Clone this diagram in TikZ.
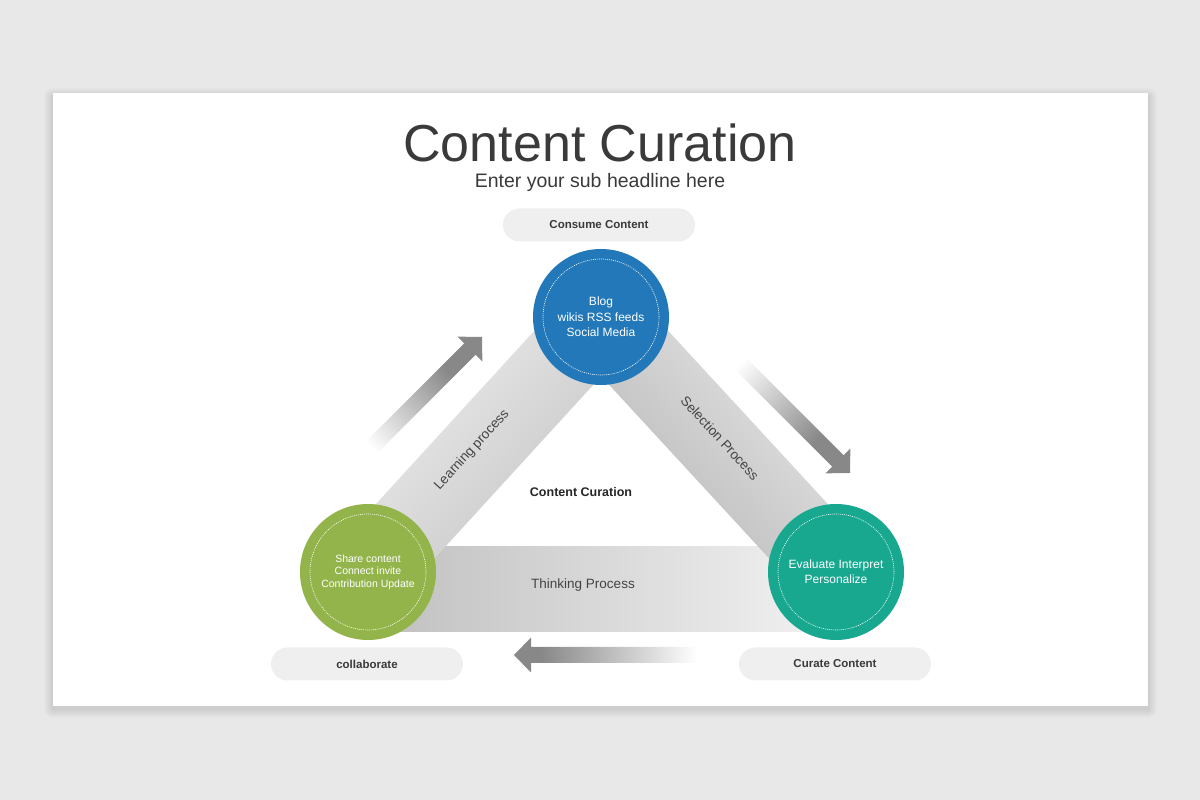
\documentclass[tikz,border=0pt]{standalone}
\usepackage{fontspec}
\setmainfont{Liberation Sans}
\usetikzlibrary{calc}
\definecolor{bgc}{HTML}{E9E8E9}
\definecolor{pillc}{HTML}{EFEFEF}
\definecolor{bluec}{HTML}{2278B9}
\definecolor{greenc}{HTML}{93B44B}
\definecolor{tealc}{HTML}{18A88F}
\definecolor{agray}{HTML}{888888}
\definecolor{titlec}{HTML}{3A3A3A}
\definecolor{labc}{HTML}{444444}
\pgfdeclarehorizontalshading{fadearrow}{100bp}{color(0bp)=(white); color(28bp)=(white); color(68bp)=(agray); color(100bp)=(agray)}
\tikzset{
  hub/.style={circle,minimum size=136pt,inner sep=0pt,text=white,align=center},
  ring/.style={circle,draw=white,line width=0.6pt,dash pattern=on 1pt off 1pt,minimum size=116pt,inner sep=0pt},
  pill/.style={rounded corners=16.5pt,fill=pillc,minimum width=192pt,minimum height=33pt,inner sep=0pt,font=\fontsize{11.5}{13}\selectfont\bfseries,text=titlec},
  bandlab/.style={font=\fontsize{13.5}{15}\selectfont,text=labc},
  fadearr/.style={shading=fadearrow}
}
\newcommand{\blockarrowpath}[1]{(0,0) -- (-17,17.5) -- (-17,8) -- (-#1,8) -- (-#1,-8) -- (-17,-8) -- (-17,-17.5) -- cycle}
\begin{document}
\begin{tikzpicture}[x=1pt,y=1pt]
\useasboundingbox (0,0) rectangle (1200,800);
\fill[bgc] (0,0) rectangle (1200,800);
% card shadow
\foreach \d in {1,2,...,9}{
  \fill[black,opacity=0.012,rounded corners=\d pt] (53-\d,94-\d-3) rectangle (1148+\d,707+\d-4);
}
\fill[white] (53,94) rectangle (1148,707);
% titles
\node[anchor=base,font=\fontsize{52}{60}\selectfont,text=titlec] (title) at (600,638) {Content Curation};
\node[anchor=base,font=\fontsize{19.5}{22}\selectfont,text=titlec] (sub) at (600,612) {Enter your sub headline here};
% centers
\coordinate (cB) at (601,483);
\coordinate (cG) at (368,228);
\coordinate (cT) at (836,228);
% bands
\shade[left color=white!75!black, right color=white!95!black] (368,168) rectangle (836,253);
\begin{scope}[shift={(cG)},rotate=47.57]
  \shade[left color=white!94!black, right color=white!76!black, shading angle=47.57] (0,-40) rectangle (345.4,40);
\end{scope}
\begin{scope}[shift={(cB)},rotate=-47.33]
  \shade[left color=white!92!black, right color=white!70!black, shading angle=-47.33] (0,-40) rectangle (346.8,40);
\end{scope}
% gradient arrows
\begin{scope}[shift={(482,463)},rotate=45]
  \shade[fadearr,shading angle=45] \blockarrowpath{186};
\end{scope}
\begin{scope}[shift={(850,327)},rotate=-45]
  \shade[fadearr,shading angle=-45] \blockarrowpath{184};
\end{scope}
\begin{scope}[shift={(514,145)},rotate=180]
  \shade[fadearr,shading angle=180] \blockarrowpath{195};
\end{scope}
% band labels
\node[bandlab,rotate=47.57] (learn) at (472,350) {Learning process};
\node[bandlab,rotate=-47.33] (select) at (720,362) {Selection Process};
\node[bandlab] (think) at (583,215) {Thinking Process};
\node[font=\fontsize{12.5}{14}\selectfont\bfseries,text=black!85] (mid) at (581,308) {Content Curation};
% hubs
\node[hub,fill=bluec,font=\fontsize{12}{15.5}\selectfont] (blue) at (cB) {Blog\\wikis RSS feeds\\Social Media};
\node[ring] (blueR) at (cB) {};
\node[hub,fill=greenc,font=\fontsize{10.5}{12.5}\selectfont] (green) at (cG) {Share content\\Connect invite\\Contribution Update};
\node[ring] (greenR) at (cG) {};
\node[hub,fill=tealc,font=\fontsize{12}{15}\selectfont] (teal) at (cT) {Evaluate Interpret\\Personalize};
\node[ring] (tealR) at (cT) {};
% pills
\node[pill] (consume) at (599,575) {Consume Content};
\node[pill] (collab) at (367,136) {collaborate};
\node[pill] (curate) at (835,136) {Curate Content};
\end{tikzpicture}
\end{document}
